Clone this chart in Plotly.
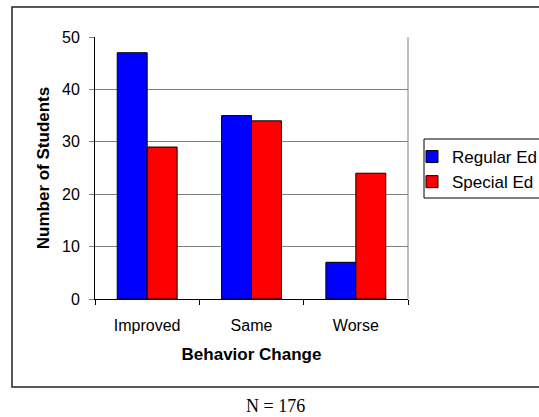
import plotly.graph_objects as go

# Behavior change counts by student group
categories = ["Improved", "Same", "Worse"]
regular_ed = [47, 35, 7]
special_ed = [29, 34, 24]
y_ticks = [0, 10, 20, 30, 40, 50]
note_text = "N = 176"

W, H = 539, 417
L, R, T, B = 95, 131, 37, 118
pw, ph = W - L - R, H - T - B


def px_x(px):
    return (px - L) / pw


def px_y(py):
    return (H - B - py) / ph


sans = "Arial, Liberation Sans, sans-serif"

fig = go.Figure()
fig.add_trace(go.Bar(
    name="Regular Ed", x=categories, y=regular_ed,
    marker=dict(color="#0000FF", line=dict(color="#000000", width=1)),
))
fig.add_trace(go.Bar(
    name="Special Ed", x=categories, y=special_ed,
    marker=dict(color="#FF0000", line=dict(color="#000000", width=1)),
))

fig.update_layout(
    width=W, height=H,
    margin=dict(l=L, r=R, t=T, b=B, pad=0, autoexpand=False),
    paper_bgcolor="white", plot_bgcolor="white",
    barmode="group", bargap=0.426, bargroupgap=0,
    font=dict(family=sans, size=16, color="#000000"),
    showlegend=True,
    legend=dict(
        x=px_x(412), y=px_y(139), xanchor="left", yanchor="top",
        borderwidth=0, bgcolor="rgba(0,0,0,0)",
        font=dict(family=sans, size=17, color="#000000"),
        tracegroupgap=0, itemwidth=30,
    ),
    xaxis=dict(
        showgrid=False, showline=True, linecolor="#000000", linewidth=1,
        ticks="outside", tickson="boundaries", ticklen=5, tickcolor="#000000",
        tickfont=dict(family=sans, size=16), ticklabelstandoff=12,
        title=dict(text="<b>Behavior Change</b>", standoff=14,
                   font=dict(family=sans, size=17)),
        fixedrange=True,
    ),
    yaxis=dict(
        range=[0, 50], tickvals=y_ticks,
        showgrid=True, gridcolor="#808080", gridwidth=1,
        showline=True, linecolor="#000000", linewidth=1,
        ticks="outside", ticklen=5, tickcolor="#808080",
        tickfont=dict(family=sans, size=16), ticklabelstandoff=6,
        zeroline=False,
        title=dict(text="<b>Number of Students</b>", standoff=8,
                   font=dict(family=sans, size=17)),
        fixedrange=True,
    ),
    shapes=[
        # right edge of the plot area
        dict(type="line", xref="paper", yref="paper", x0=1, x1=1, y0=0, y1=1,
             line=dict(color="#808080", width=1)),
        # chart frame
        dict(type="rect", xref="paper", yref="paper",
             x0=px_x(12), x1=px_x(560), y0=px_y(387), y1=px_y(7),
             line=dict(color="#222222", width=1.5), layer="below"),
        # legend frame
        dict(type="rect", xref="paper", yref="paper",
             x0=px_x(424), x1=px_x(560), y0=px_y(198), y1=px_y(139),
             line=dict(color="#000000", width=1), fillcolor="white",
             layer="below"),
    ],
    annotations=[
        dict(text=note_text, xref="paper", yref="paper",
             x=px_x(275), y=px_y(406), xanchor="center", yanchor="middle",
             showarrow=False,
             font=dict(family="Times New Roman, Liberation Serif, serif",
                       size=18, color="#000000")),
    ],
)

fig.write_html("out.html", config={"displayModeBar": False})
